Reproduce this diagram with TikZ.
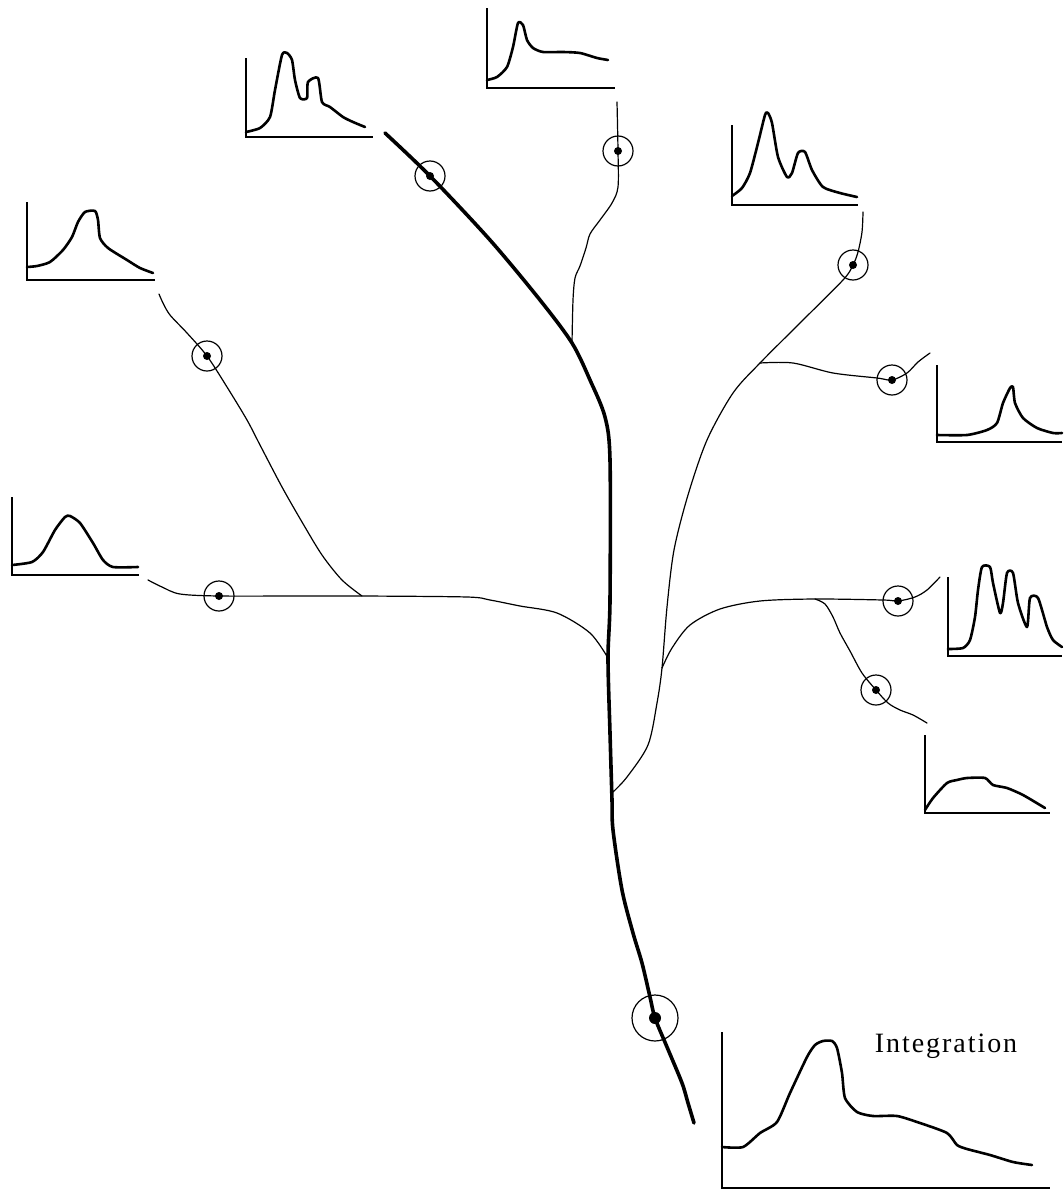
\documentclass[tikz,border=0pt]{standalone}
\usepackage{fontspec}
\newfontfamily\labelfont[LetterSpace=7]{Liberation Serif}
\begin{document}
\begin{tikzpicture}[x=1pt,y=-1pt,
  trunk/.style={line width=3.6pt,line cap=round,line join=round},
  branch/.style={line width=1.2pt,line cap=round,line join=round},
  spec/.style={line width=2.6pt,line cap=round,line join=round},
  axis/.style={line width=2.2pt,line cap=butt,line join=miter},
  ring/.style={circle,draw,line width=1.2pt,minimum size=30pt,inner sep=0pt},
  bigring/.style={ring,minimum size=46pt},
  dot/.style={circle,fill,inner sep=0pt,minimum size=8pt},
  bigdot/.style={dot,minimum size=12pt}]
\useasboundingbox (0,0) rectangle (1063,1191);

% ---------- circles (measurement points) ----------
\node[ring] (p1) at (430,176) {};
\node[ring] (p2) at (618,151) {};
\node[ring] (p3) at (853,265) {};
\node[ring] (p4) at (207,356) {};
\node[ring] (p5) at (892,380) {};
\node[ring] (p6) at (219,596) {};
\node[ring] (p7) at (898,601) {};
\node[ring] (p8) at (876,690) {};
\node[bigring] (p9) at (655,1018) {};
\foreach \p in {p1,p2,p3,p4,p5,p6,p7,p8} \node[dot] at (\p.center) {};
\node[bigdot] at (p9.center) {};

% ---------- junctions and free ends ----------
\coordinate (j1) at (572,343);
\coordinate (j2) at (608,658);
\coordinate (j3) at (613,792);
\coordinate (j4) at (760,363);
\coordinate (j5) at (662,668);
\coordinate (j6) at (815,599);
\coordinate (j7) at (362,596);
\coordinate (e1) at (385,133);
\coordinate (e2) at (694,1123);

% ---------- trunk ----------
\draw[trunk] plot[smooth,tension=0.5] coordinates {(e1) (p1.center) (490,240) (540,300) (j1) (590,380) (605,417) (610,460) (610,600) (j2) (610,733) (612,800) (613,830) (622,890) (633,933) (642,963) (650,997) (p9.center) (667,1047) (682,1083) (688,1103) (e2)};

% ---------- branches ----------
\draw[branch] plot[smooth,tension=0.5] coordinates {(617,102) (p2.center) (618,187) (612,203) (600,220) (590,234) (586,248) (580,266) (575,278) (573,300) (j1)};
\draw[branch] plot[smooth,tension=0.5] coordinates {(159,294) (163,303) (170,315) (187,333) (p4.center) (227,387) (247,420) (260,445) (282,487) (302,522) (322,555) (342,580) (j7)};
\draw[branch] plot[smooth,tension=0.5] coordinates {(148,580) (162,587) (180,594) (p6.center) (300,596) (j7) (467,597) (490,600) (520,606) (557,613) (590,633) (j2)};
\draw[branch] plot[smooth,tension=0.5] coordinates {(863,212) (862,232) (858,252) (p3.center) (843,280) (800,323) (j4) (733,393) (707,440) (688,495) (674,550) (667,607) (j5) (657,703) (648,745) (627,777) (j3)};
\draw[branch] plot[smooth,tension=0.5] coordinates {(j4) (793,363) (833,373) (877,378) (p5.center) (907,373) (918,362) (930,353)};
\draw[branch] plot[smooth,tension=0.5] coordinates {(j5) (672,648) (690,625) (720,609) (760,601) (j6) (883,600) (p7.center) (915,597) (927,590) (940,577)};
\draw[branch] plot[smooth,tension=0.5] coordinates {(j6) (825,604) (833,617) (840,633) (850,651) (862,673) (p8.center) (888,703) (900,710) (913,715) (927,723)};

% ---------- spectra ----------
% top-left
\draw[axis] (246,58) -- (246,137) -- (373,137);
\draw[spec] plot[smooth,tension=0.4] coordinates {(246,132) (260,128) (270,117) (275,90) (282,55) (287,53) (292,60) (295,80) (300,98) (307,98) (308,82) (318,78) (322,102) (330,107) (343,117) (353,122) (365,127)};
% top
\draw[axis] (487,8) -- (487,88) -- (615,88);
\draw[spec] plot[smooth,tension=0.4] coordinates {(487,80) (497,77) (507,67) (513,47) (518,23) (523,25) (527,40) (533,48) (543,52) (563,52) (580,53) (597,58) (608,60)};
% left upper
\draw[axis] (27,202) -- (27,280) -- (155,280);
\draw[spec] plot[smooth,tension=0.4] coordinates {(27,267) (37,266) (50,262) (63,250) (72,237) (78,222) (85,212) (95,211) (98,220) (100,238) (108,248) (127,260) (140,268) (153,273)};
% left lower
\draw[axis] (12,497) -- (12,575) -- (139,575);
\draw[spec] plot[smooth,tension=0.4] coordinates {(12,565) (32,562) (43,552) (55,530) (65,517) (70,516) (80,523) (93,543) (103,560) (113,567) (138,567)};
% right top
\draw[axis] (732,125) -- (732,205) -- (858,205);
\draw[spec] plot[smooth,tension=0.4] coordinates {(732,196) (742,188) (750,173) (758,143) (765,115) (768,113) (772,123) (778,157) (787,177) (792,173) (798,153) (805,152) (812,170) (823,187) (840,193) (857,197)};
% right middle
\draw[axis] (937,365) -- (937,442) -- (1062,442);
\draw[spec] plot[smooth,tension=0.4] coordinates {(937,435) (967,435) (987,430) (997,423) (1003,403) (1010,388) (1013,387) (1015,403) (1023,418) (1037,428) (1053,433) (1062,433)};
% right multi-peak
\draw[axis] (948,577) -- (948,656) -- (1062,656);
\draw[spec] plot[smooth,tension=0.4] coordinates {(948,649) (963,648) (970,640) (975,617) (978,590) (982,567) (990,567) (993,583) (1000,613) (1003,603) (1007,573) (1013,573) (1018,603) (1027,627) (1030,598) (1038,598) (1047,627) (1053,640) (1062,647)};
% right lower
\draw[axis] (925,735) -- (925,813) -- (1050,813);
\draw[spec] plot[smooth,tension=0.4] coordinates {(925,810) (933,798) (947,783) (957,780) (967,778) (985,778) (993,785) (1007,788) (1023,795) (1045,808)};
% integration
\draw[axis] (722,1032) -- (722,1188) -- (1050,1188);
\draw[spec] plot[smooth,tension=0.4] coordinates {(722,1147) (743,1147) (760,1133) (777,1122) (790,1093) (807,1057) (815,1045) (823,1041) (832,1041) (837,1048) (842,1073) (845,1098) (857,1112) (873,1116) (897,1116) (920,1123) (947,1133) (957,1145) (967,1149) (990,1155) (1013,1162) (1032,1165)};
\node[anchor=base,inner sep=0pt,font=\labelfont\fontsize{28}{30}\selectfont] (lab) at (946,1052) {Integration};
\end{tikzpicture}
\end{document}
